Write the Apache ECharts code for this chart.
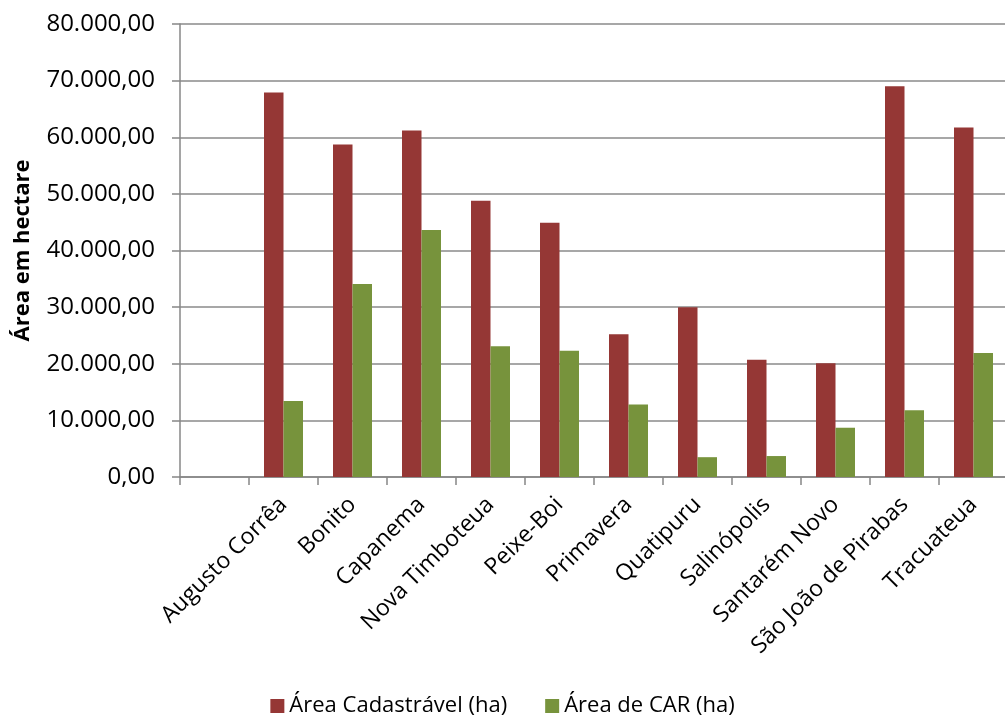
<!DOCTYPE html>
<html>
<head>
<meta charset="utf-8">
<script src="https://cdn.jsdelivr.net/npm/echarts@6/dist/echarts.min.js"></script>
<style>
  html, body { margin: 0; padding: 0; background: #fff; }
  #chart { width: 1005px; height: 722px; }
</style>
</head>
<body>
<div id="chart"></div>
<script>
// municípios (o primeiro espaço fica vazio, como no original)
const municipios = ['', 'Augusto Corrêa', 'Bonito', 'Capanema', 'Nova Timboteua', 'Peixe-Boi',
  'Primavera', 'Quatipuru', 'Salinópolis', 'Santarém Novo', 'São João de Pirabas', 'Tracuateua'];

const areaCadastravel = [null, 67900, 58700, 61200, 48800, 44900, 25200, 30000, 20700, 20100, 69000, 61700];
const areaCAR = [null, 13400, 34100, 43600, 23100, 22300, 12800, 3500, 3700, 8700, 11800, 21900];

const serieNomes = ['Área Cadastrável (ha)', 'Área de CAR (ha)'];
const yMax = 80000;
const yStep = 10000;

const fmtBR = (v) => {
  const s = Math.round(v).toString().replace(/\B(?=(\d{3})+(?!\d))/g, '.');
  return s + ',00';
};

const fonte = '"Open Sans", sans-serif';
const chart = echarts.init(document.getElementById('chart'));

chart.setOption({
  animation: false,
  backgroundColor: '#fff',
  textStyle: { fontFamily: fonte, color: '#000' },
  grid: { left: 180, top: 24, right: -3, bottom: 245, outerBoundsMode: 'none', containLabel: false },
  legend: {
    bottom: 0,
    left: 'center',
    itemWidth: 14,
    itemHeight: 14,
    itemGap: 38,
    icon: 'rect',
    textStyle: { fontFamily: fonte, fontSize: 22, color: '#000' },
    data: serieNomes
  },
  xAxis: {
    type: 'category',
    data: municipios,
    axisLine: { lineStyle: { color: '#878787', width: 1.5 } },
    axisTick: { show: true, length: 8, lineStyle: { color: '#878787', width: 1.5 } },
    axisLabel: {
      interval: 0,
      rotate: 45,
      margin: 24,
      fontSize: 23,
      color: '#000',
      fontFamily: fonte
    }
  },
  yAxis: {
    type: 'value',
    min: 0,
    max: yMax,
    interval: yStep,
    name: 'Área em hectare',
    nameLocation: 'middle',
    nameGap: 146,
    nameTextStyle: { fontFamily: fonte, fontSize: 22, fontWeight: 'bold', color: '#000' },
    axisLine: { show: true, lineStyle: { color: '#878787', width: 1.5 } },
    axisTick: { show: true, length: 8, lineStyle: { color: '#878787', width: 1.5 } },
    axisLabel: {
      margin: 25,
      fontSize: 24,
      color: '#000',
      fontFamily: fonte,
      formatter: fmtBR
    },
    splitLine: { lineStyle: { color: '#8a8a8a', width: 1.5 } }
  },
  series: [
    {
      name: serieNomes[0],
      type: 'bar',
      data: areaCadastravel,
      barWidth: 19.5,
      barGap: '0%',
      itemStyle: { color: '#953735' }
    },
    {
      name: serieNomes[1],
      type: 'bar',
      data: areaCAR,
      barWidth: 19.5,
      itemStyle: { color: '#77933c' }
    }
  ]
});
</script>
</body>
</html>
